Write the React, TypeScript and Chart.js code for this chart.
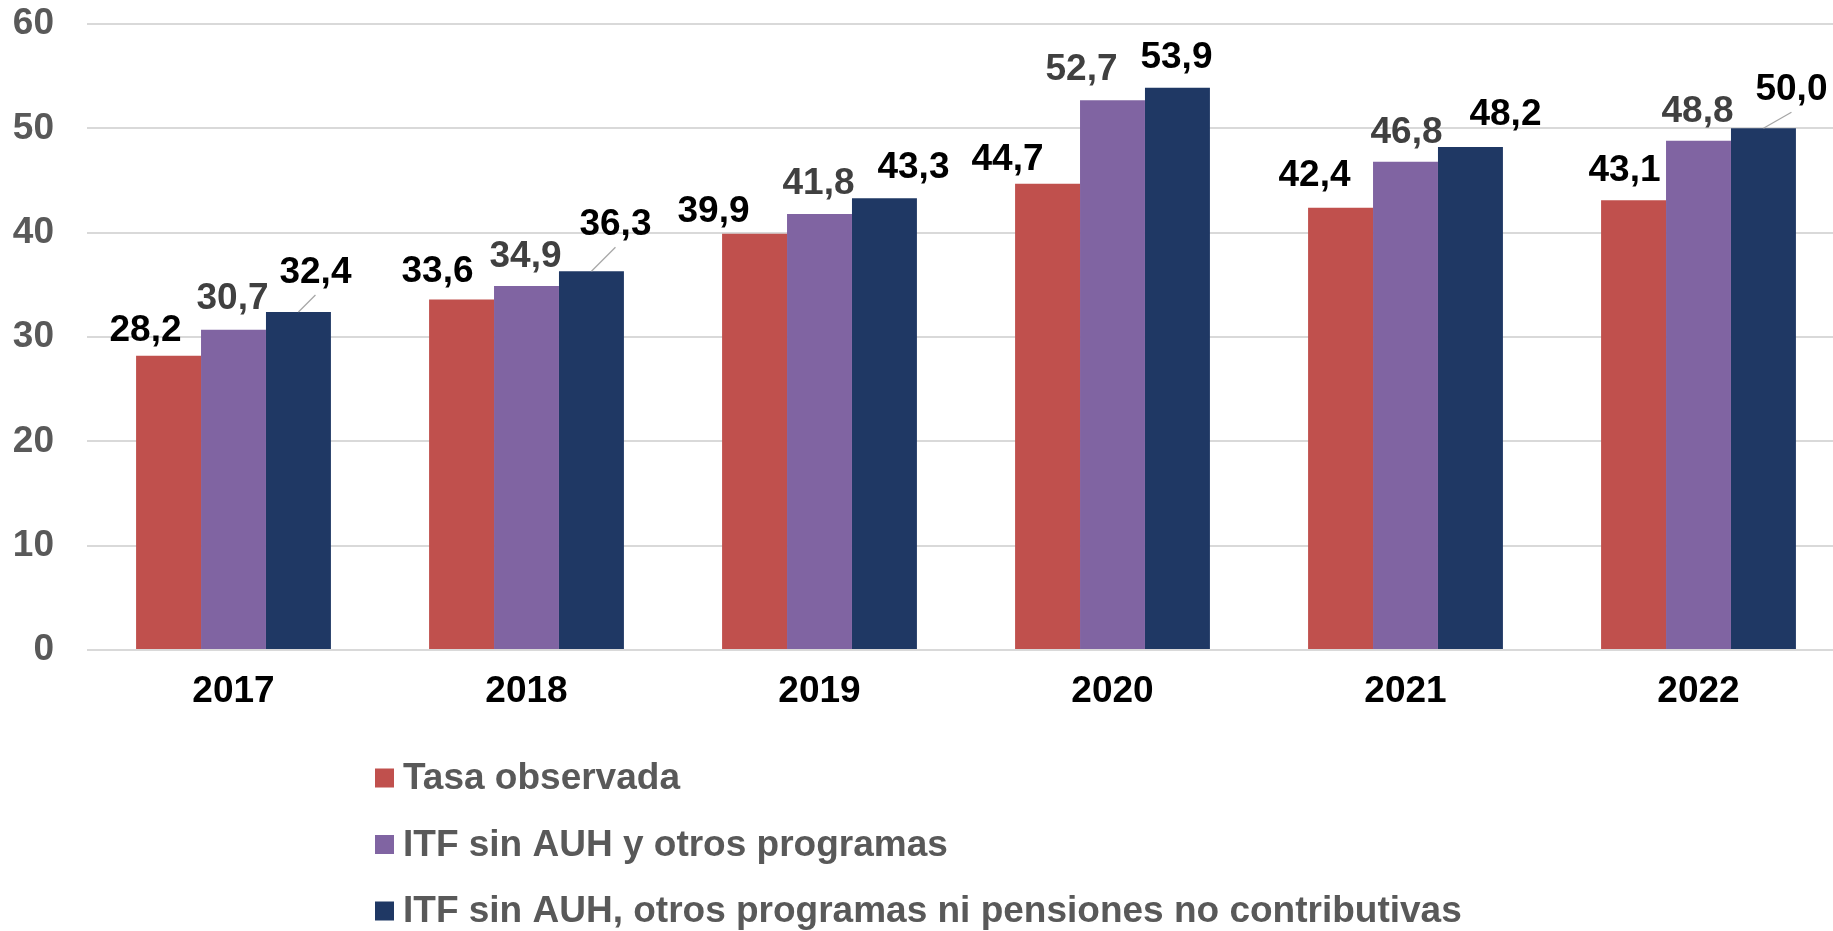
import React, { useEffect, useRef } from "react";
import { Chart, registerables } from "chart.js";

Chart.register(...registerables);

// ---------- data ----------
const years = ["2017", "2018", "2019", "2020", "2021", "2022"];
const tasaObservada = [28.2, 33.6, 39.9, 44.7, 42.4, 43.1];
const itfSinAuh = [30.7, 34.9, 41.8, 52.7, 46.8, 48.8];
const itfSinAuhNiPensiones = [32.4, 36.3, 43.3, 53.9, 48.2, 50.0];
const seriesNames = [
  "Tasa observada",
  "ITF sin AUH y otros programas",
  "ITF sin AUH, otros programas ni pensiones no contributivas",
];
const yMin = 0;
const yMax = 60;
const yStep = 10;

// ---------- styles ----------
const seriesColors = ["#C0504D", "#8064A2", "#1F3864"];
const labelColors = ["#000000", "#404040", "#000000"];
const FONT = '"Liberation Sans", Arial, Helvetica, sans-serif';
const FS = 37;
// manual label nudges (as in the source's hand-placed labels)
const labelDx = [
  [-23, -24, -41, -40, -26, -9],
  [-1, -1, -1, -31, 1, -1],
  [17, 24, 29, -1, 35, 28],
];
const labelGap = [
  [15, 17, 12, 14, 22, 19],
  [21, 19, 20, 20, 19, 19],
  [29, 36, 20, 20, 22, 28],
];
const leaderLines = [
  [false, false, false, false, false, false],
  [false, false, false, false, false, false],
  [true, true, false, false, false, true],
];

const fmt = (v: number) => v.toFixed(1).replace(".", ",");

const dataLabelPlugin = {
  id: "dataLabels",
  afterDatasetsDraw(chart: any) {
    const ctx = chart.ctx;
    ctx.save();
    chart.data.datasets.forEach((ds: any, di: number) => {
      const meta = chart.getDatasetMeta(di);
      meta.data.forEach((bar: any, i: number) => {
        const v = ds.data[i] as number;
        const x = bar.x + labelDx[di][i];
        const y = bar.y - labelGap[di][i];
        if (leaderLines[di][i]) {
          ctx.strokeStyle = "#A6A6A6";
          ctx.lineWidth = 1.2;
          ctx.beginPath();
          ctx.moveTo(bar.x, bar.y);
          ctx.lineTo(x, y + 12);
          ctx.stroke();
        }
        ctx.font = `bold ${FS}px ${FONT}`;
        ctx.fillStyle = labelColors[di];
        ctx.textAlign = "center";
        ctx.textBaseline = "alphabetic";
        ctx.fillText(fmt(v), x, y);
      });
    });
    ctx.restore();
  },
};

const legendPlugin = {
  id: "customLegend",
  afterDraw(chart: any) {
    const ctx = chart.ctx;
    const left = 375;
    const top = 778;
    const rowGap = 66.5;
    const box = 19;
    ctx.save();
    ctx.font = `bold ${FS}px ${FONT}`;
    ctx.textAlign = "left";
    ctx.textBaseline = "middle";
    chart.data.datasets.forEach((ds: any, i: number) => {
      const cy = top + i * rowGap;
      ctx.fillStyle = ds.backgroundColor;
      ctx.fillRect(left, cy - box / 2, box, box);
      ctx.fillStyle = "#595959";
      ctx.fillText(ds.label, left + box + 9, cy + 1);
    });
    ctx.restore();
  },
};

export default function App() {
  const canvasRef = useRef<HTMLCanvasElement | null>(null);

  useEffect(() => {
    document.body.style.margin = "0";
    document.body.style.overflow = "hidden";
    const canvas = canvasRef.current;
    if (!canvas) return;
    const chart = new Chart(canvas, {
      type: "bar",
      data: {
        labels: years,
        datasets: [
          { label: seriesNames[0], data: tasaObservada, backgroundColor: seriesColors[0] },
          { label: seriesNames[1], data: itfSinAuh, backgroundColor: seriesColors[1] },
          { label: seriesNames[2], data: itfSinAuhNiPensiones, backgroundColor: seriesColors[2] },
        ],
      },
      options: {
        responsive: false,
        maintainAspectRatio: false,
        devicePixelRatio: 1,
        animation: false,
        layout: { padding: { top: 24, right: 0, bottom: 0, left: 0 } },
        datasets: {
          bar: { categoryPercentage: 0.665, barPercentage: 1.0, borderWidth: 0 },
        },
        plugins: {
          legend: { display: false },
          tooltip: { enabled: false },
        },
        scales: {
          x: {
            grid: { display: false, drawTicks: false },
            border: { display: false },
            ticks: {
              color: "#000000",
              font: { family: FONT, size: FS, weight: "bold" },
              padding: 20,
            },
            afterFit(scale: any) {
              scale.height = 281;
            },
          },
          y: {
            min: yMin,
            max: yMax,
            grid: {
              color: "#D9D9D9",
              lineWidth: 2,
              drawTicks: true,
              tickLength: 33,
              tickColor: "rgba(0,0,0,0)",
            },
            border: { display: false },
            ticks: {
              stepSize: yStep,
              color: "#595959",
              font: { family: FONT, size: FS, weight: "bold" },
              padding: 0,
            },
            afterFit(scale: any) {
              scale.width = 87;
            },
          },
        },
      } as any,
      plugins: [dataLabelPlugin, legendPlugin],
    });
    return () => chart.destroy();
  }, []);

  return (
    <div style={{ position: "absolute", left: 0, top: 0, width: 1833, height: 931, background: "#ffffff", overflow: "hidden" }}>
      <canvas ref={canvasRef} width={1845} height={931} style={{ display: "block" }} />
    </div>
  );
}
